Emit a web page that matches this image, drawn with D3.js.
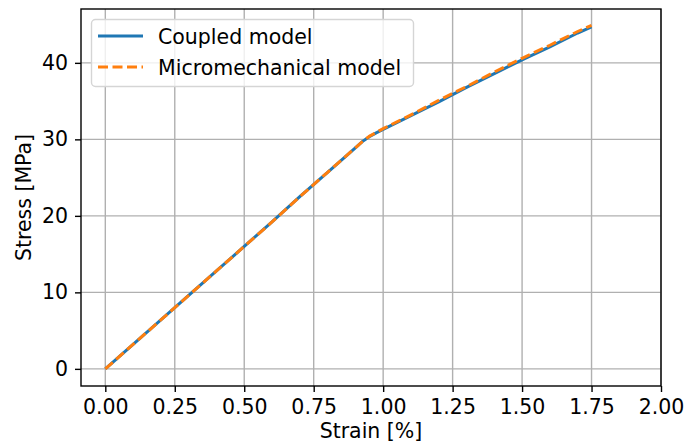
<!DOCTYPE html>
<html>
<head>
<meta charset="utf-8">
<script src="https://cdn.jsdelivr.net/npm/d3@7"></script>
<style>
  body { margin: 0; background: #fff; }
  text { font-family: "DejaVu Sans", sans-serif; }
</style>
</head>
<body>
<div id="chart"></div>
<script>
// strain [%] and stress [MPa]
var strain = [0, 0.1, 0.2, 0.3, 0.4, 0.5, 0.6, 0.7, 0.8, 0.85, 0.9, 0.925, 0.95, 0.975, 1.0, 1.1, 1.2, 1.3, 1.4, 1.5, 1.6, 1.7, 1.75];
var coupled = [0, 3.2, 6.4, 9.6, 12.8, 16.0, 19.2, 22.5, 25.7, 27.3, 28.9, 29.7, 30.35, 30.85, 31.3, 33.1, 34.9, 36.8, 38.6, 40.4, 42.1, 43.9, 44.7];
var micro = [0, 3.2, 6.4, 9.6, 12.8, 16.0, 19.2, 22.5, 25.7, 27.3, 28.9, 29.7, 30.4, 30.9, 31.4, 33.2, 35.1, 36.9, 38.8, 40.6, 42.3, 44.1, 44.9];
var xTicks = [0, 0.25, 0.5, 0.75, 1.0, 1.25, 1.5, 1.75, 2.0];
var yTicks = [0, 10, 20, 30, 40];
var seriesNames = ["Coupled model", "Micromechanical model"];

var width = 686, height = 445;
var m = { left: 81, right: 25, top: 9, bottom: 59 };
var fs = 20.5;

var svg = d3.select("#chart")
  .append("svg")
  .attr("width", width)
  .attr("height", height);

var x = d3.scaleLinear()
  .domain([-0.0875, 2.0])
  .range([m.left, width - m.right]);
var y = d3.scaleLinear()
  .domain([-2.24, 47.04])
  .range([height - m.bottom, m.top]);

// grid
var grid = svg.append("g");
grid.selectAll(".gx")
  .data(xTicks)
  .enter()
  .append("line")
  .attr("x1", d => x(d)).attr("x2", d => x(d))
  .attr("y1", m.top).attr("y2", height - m.bottom)
  .attr("stroke", "#b0b0b0")
  .attr("stroke-width", 1.4);
grid.selectAll(".gy")
  .data(yTicks)
  .enter()
  .append("line")
  .attr("x1", m.left).attr("x2", width - m.right)
  .attr("y1", d => y(d)).attr("y2", d => y(d))
  .attr("stroke", "#b0b0b0")
  .attr("stroke-width", 1.4);

// lines
var line = d3.line()
  .x((d, i) => x(strain[i]))
  .y(d => y(d));

svg.append("path")
  .attr("d", line(coupled))
  .attr("fill", "none")
  .attr("stroke", "#1f77b4")
  .attr("stroke-width", 3);
svg.append("path")
  .attr("d", line(micro))
  .attr("fill", "none")
  .attr("stroke", "#ff7f0e")
  .attr("stroke-width", 3)
  .attr("stroke-dasharray", "10,4.5");

// axes
var xAxis = svg.append("g")
  .attr("transform", `translate(0, ${height - m.bottom})`)
  .call(d3.axisBottom(x).tickValues(xTicks).tickFormat(d3.format(".2f")).tickSize(6).tickPadding(7));
var yAxis = svg.append("g")
  .attr("transform", `translate(${m.left}, 0)`)
  .call(d3.axisLeft(y).tickValues(yTicks).tickSize(6).tickPadding(7));

[xAxis, yAxis].forEach(a => {
  a.select(".domain").remove();
  a.selectAll("line").attr("stroke", "#000").attr("stroke-width", 1.4);
  a.selectAll("text").attr("font-size", fs).attr("fill", "#000")
    .attr("font-family", "DejaVu Sans, sans-serif");
});

// frame
svg.append("rect")
  .attr("x", m.left).attr("y", m.top)
  .attr("width", width - m.right - m.left)
  .attr("height", height - m.bottom - m.top)
  .attr("fill", "none")
  .attr("stroke", "#000")
  .attr("stroke-width", 1.4);

// axis labels
svg.append("text")
  .attr("x", (m.left + width - m.right) / 2)
  .attr("y", 438)
  .attr("text-anchor", "middle")
  .attr("font-size", fs)
  .text("Strain [%]");
svg.append("text")
  .attr("transform", `translate(31, ${(m.top + height - m.bottom) / 2}) rotate(-90)`)
  .attr("text-anchor", "middle")
  .attr("font-size", fs)
  .text("Stress [MPa]");

// legend
var lg = svg.append("g");
lg.append("rect")
  .attr("x", 91.5).attr("y", 19.5)
  .attr("width", 322).attr("height", 67)
  .attr("rx", 4)
  .attr("fill", "#fff").attr("fill-opacity", 0.8)
  .attr("stroke", "#d5d5d5").attr("stroke-width", 1.4);
var styles = [
  { color: "#1f77b4", dash: null },
  { color: "#ff7f0e", dash: "10,4.5" }
];
seriesNames.forEach((name, i) => {
  var yy = 36 + i * 31;
  lg.append("line")
    .attr("x1", 98).attr("x2", 143)
    .attr("y1", yy).attr("y2", yy)
    .attr("stroke", styles[i].color)
    .attr("stroke-width", 3)
    .attr("stroke-dasharray", styles[i].dash);
  lg.append("text")
    .attr("x", 158).attr("y", yy + 8)
    .attr("font-size", fs)
    .text(name);
});
</script>
</body>
</html>
